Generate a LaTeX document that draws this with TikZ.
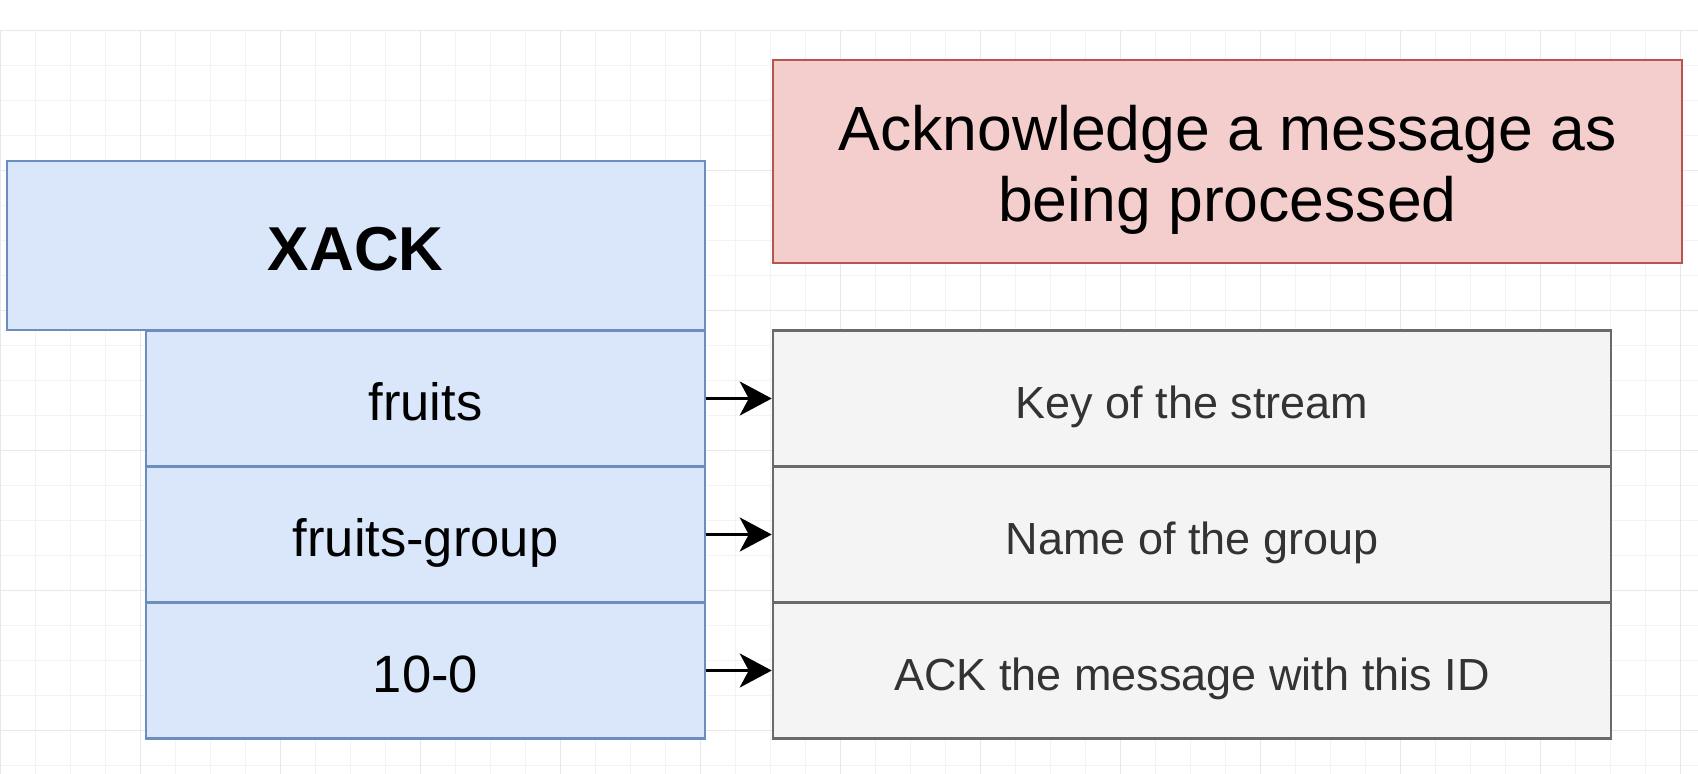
\documentclass[tikz,border=0pt]{standalone}
\usepackage{fontspec}
\setmainfont{Liberation Sans}
\usetikzlibrary{arrows.meta}
\definecolor{bluefill}{HTML}{DAE6FA}
\definecolor{bluedraw}{HTML}{6C8EBF}
\definecolor{redfill}{HTML}{F3CECC}
\definecolor{reddraw}{HTML}{B85450}
\definecolor{grayfill}{HTML}{F4F4F4}
\definecolor{graydraw}{HTML}{6A6A6A}
\definecolor{gridminor}{HTML}{F3F3F3}
\definecolor{gridmajor}{HTML}{E8E8E8}
\definecolor{desctext}{HTML}{333333}
\tikzset{
  x=1pt, y=-1pt,
  box/.style={rectangle, inner sep=0pt, line width=2.5pt, align=center},
  cmdbox/.style={box, fill=bluefill, draw=bluedraw, minimum width=698pt, minimum height=169pt,
                 text height=50pt, text depth=0pt,
                 font=\fontsize{62}{72}\selectfont\bfseries},
  argbox/.style={box, fill=bluefill, draw=bluedraw, minimum width=559pt, minimum height=136pt,
                 text height=44pt, text depth=0pt,
                 font=\fontsize{52.5}{60}\selectfont},
  descbox/.style={box, fill=grayfill, draw=graydraw, minimum width=838pt, minimum height=136pt,
                  text height=39pt, text depth=0pt,
                  text=desctext, font=\fontsize{45}{54}\selectfont},
  notebox/.style={box, fill=redfill, draw=reddraw, minimum width=909pt, minimum height=203pt,
                  font=\fontsize{62.5}{71}\selectfont},
  link/.style={line width=2.8pt, -{Stealth[length=32pt, width=34pt, inset=9pt]}}
}
\begin{document}
\begin{tikzpicture}
\useasboundingbox (0,0) rectangle (1698,774);
\fill[white] (0,0) rectangle (1698,774);
% faint grid
\foreach \gx in {0,35,...,1698} {\draw[gridminor, line width=0.8pt] (\gx,30) -- (\gx,774);}
\foreach \gy in {30,65,...,774} {\draw[gridminor, line width=0.8pt] (0,\gy) -- (1698,\gy);}
\foreach \gx in {0,140,...,1698} {\draw[gridmajor, line width=0.9pt] (\gx,30) -- (\gx,774);}
\foreach \gy in {30,170,...,774} {\draw[gridmajor, line width=0.9pt] (0,\gy) -- (1698,\gy);}

\node[notebox] (note) at (1227.5,161.3)
  {\raisebox{0pt}[\dimexpr\height+20pt\relax]{\begin{tabular}{@{}c@{}}Acknowledge a message as\\being processed\end{tabular}}};

\node[cmdbox] (cmd) at (355.75,245.5) {XACK};
\node[argbox] (a1) at (425.5,398.5) {fruits};
\node[argbox] (a2) at (425.5,534.5) {fruits-group};
\node[argbox] (a3) at (425.5,670.5) {10-0};

\node[descbox] (d1) at (1192,398.5) {Key of the stream};
\node[descbox] (d2) at (1192,534.5) {Name of the group};
\node[descbox] (d3) at (1192,670.5) {ACK the message with this ID};

\draw[link] (a1.east) -- (d1.west);
\draw[link] (a2.east) -- (d2.west);
\draw[link] (a3.east) -- (d3.west);
\end{tikzpicture}
\end{document}
